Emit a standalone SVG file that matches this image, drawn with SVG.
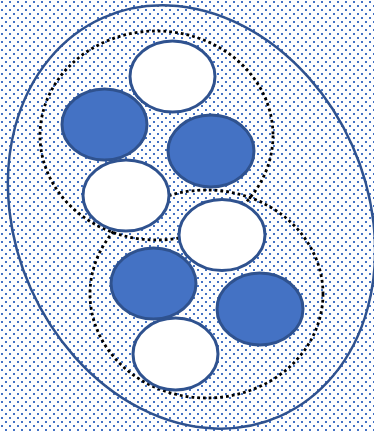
<svg xmlns="http://www.w3.org/2000/svg" width="374" height="433" viewBox="0 0 374 433">
<defs>
<pattern id="dots" x="0" y="0" width="8" height="8" patternUnits="userSpaceOnUse">
<rect x="1" y="1" width="2" height="2" fill="#4472C4"/>
<rect x="5" y="5" width="2" height="2" fill="#4472C4"/>
</pattern>
<style>
.blue{fill:#4472C4;stroke:#2F528F;stroke-width:3}
.white{fill:#FFFFFF;stroke:#2F528F;stroke-width:3}
.outer{fill:none;stroke:#2F528F;stroke-width:2.5}
.dotted{fill:none;stroke:#000;stroke-width:2.8;stroke-dasharray:2.8 3}
</style>
</defs>
<rect id="background" x="0" y="0" width="374" height="433" fill="url(#dots)"/>
<g id="outer"><ellipse class="outer" cx="191.5" cy="217" rx="176" ry="218" transform="rotate(-24 191.5 217)"/></g>
<g id="connectors">
<ellipse id="group-upper" class="dotted" cx="156.5" cy="135.5" rx="116.5" ry="104.5"/>
<ellipse id="group-lower" class="dotted" cx="206.5" cy="294" rx="116.5" ry="104"/>
</g>
<g id="e1"><ellipse class="white" cx="172.5" cy="76.5" rx="42.5" ry="35.5"/></g>
<g id="e2"><ellipse class="blue" cx="104.5" cy="124.5" rx="42.5" ry="35.5"/></g>
<g id="e3"><ellipse class="blue" cx="211" cy="151" rx="43" ry="36"/></g>
<g id="e4"><ellipse class="white" cx="126" cy="195.5" rx="43" ry="35.5"/></g>
<g id="e5"><ellipse class="white" cx="222" cy="235" rx="43" ry="35.5"/></g>
<g id="e6"><ellipse class="blue" cx="153.5" cy="283.5" rx="42.5" ry="35.5"/></g>
<g id="e7"><ellipse class="blue" cx="260" cy="309" rx="43" ry="36"/></g>
<g id="e8"><ellipse class="white" cx="175.5" cy="354" rx="42.5" ry="36"/></g>
</svg>
